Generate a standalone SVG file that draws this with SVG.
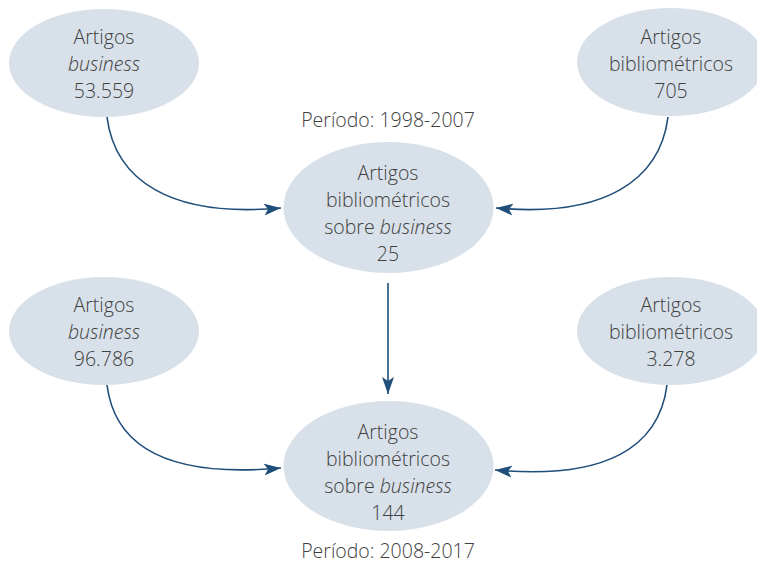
<svg xmlns="http://www.w3.org/2000/svg" width="757" height="567" viewBox="0 0 757 567">
<style>
.n{fill:#d8e1e9}
.t{font-family:"Open Sans","Liberation Sans",sans-serif;font-weight:300;font-size:19.5px;fill:#404040;text-anchor:middle}
.i{font-style:italic}
.c{fill:none;stroke:#1f4e7a;stroke-width:1.6}
</style>
<defs>
<marker id="a" markerUnits="userSpaceOnUse" markerWidth="20" markerHeight="14" refX="17" refY="7" orient="auto">
<path d="M0,1 L17,7 L0,13 L4,7 z" fill="#1f4e7a"/>
</marker>
</defs>
<rect width="757" height="567" fill="#fff"/>
<g id="tl"><ellipse class="n" cx="104" cy="63" rx="95" ry="54"/>
<text class="t" x="104" y="44">Artigos</text><text class="t i" x="104" y="71">business</text><text class="t" x="104" y="98">53.559</text></g>
<g id="tr"><ellipse class="n" cx="671" cy="62" rx="94" ry="54"/>
<text class="t" x="671" y="44">Artigos</text><text class="t" x="671" y="71">bibliométricos</text><text class="t" x="671" y="98">705</text></g>
<g id="p1"><text class="t" x="388" y="127">Período: 1998-2007</text></g>
<g id="m1"><ellipse class="n" cx="388.5" cy="207.5" rx="105" ry="65.5"/>
<text class="t" x="388" y="180">Artigos</text><text class="t" x="388" y="207">bibliométricos</text><text class="t" x="388" y="234">sobre <tspan class="i">business</tspan></text><text class="t" x="388" y="261">25</text></g>
<g id="bl"><ellipse class="n" cx="104" cy="331" rx="95" ry="54"/>
<text class="t" x="104" y="312">Artigos</text><text class="t i" x="104" y="339">business</text><text class="t" x="104" y="366">96.786</text></g>
<g id="br"><ellipse class="n" cx="671" cy="331" rx="94" ry="54"/>
<text class="t" x="671" y="312">Artigos</text><text class="t" x="671" y="339">bibliométricos</text><text class="t" x="671" y="366">3.278</text></g>
<g id="m2"><ellipse class="n" cx="388.5" cy="466" rx="105" ry="65"/>
<text class="t" x="388" y="439">Artigos</text><text class="t" x="388" y="466">bibliométricos</text><text class="t" x="388" y="493">sobre <tspan class="i">business</tspan></text><text class="t" x="388" y="520">144</text></g>
<g id="p2"><text class="t" x="388" y="558">Período: 2008-2017</text></g>
<g id="connectors">
<path class="c" marker-end="url(#a)" d="M107,117 C115,180 170,218 281,208"/>
<path class="c" marker-end="url(#a)" d="M668,117 C660,180 605,218 496,208"/>
<path class="c" marker-end="url(#a)" d="M388,283 L388,394"/>
<path class="c" marker-end="url(#a)" d="M107,385 C115,448 170,478 281,468"/>
<path class="c" marker-end="url(#a)" d="M667,385 C659,448 605,480 495,470"/>
</g>
</svg>
